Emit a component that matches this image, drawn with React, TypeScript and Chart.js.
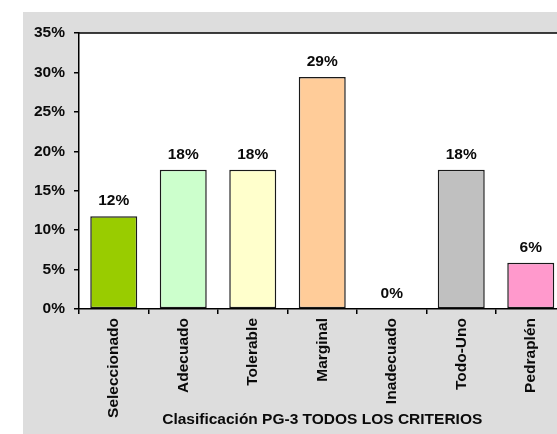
import React, { useEffect, useRef } from "react";
import { Chart, registerables } from "chart.js";

Chart.register(...registerables);

// Share of samples in each PG-3 soil class (percent)
const categories = [
  "Seleccionado",
  "Adecuado",
  "Tolerable",
  "Marginal",
  "Inadecuado",
  "Todo-Uno",
  "Pedraplén",
];
const percentages = [11.76, 17.65, 17.65, 29.41, 0, 17.65, 5.88];
const barColors = ["#99CC00", "#CCFFCC", "#FFFFCC", "#FFCC99", "#FFFFFF", "#C0C0C0", "#FF99CC"];
const yTicks = [0, 5, 10, 15, 20, 25, 30, 35];
const axisTitle = "Clasificación PG-3 TODOS LOS CRITERIOS";

const FONT = '"Liberation Sans", Arial, Helvetica, sans-serif';
const FONT_SIZE = 15.5;
const INK = "#0A0A0A";
const PANEL = "#DDDDDD";

// Gray panel with a white plot area and a framed border
const panelPlugin = {
  id: "panel",
  beforeDraw(chart: any) {
    const { ctx, chartArea, width, height } = chart;
    ctx.save();
    ctx.fillStyle = PANEL;
    ctx.fillRect(0, 0, width, height);
    ctx.fillStyle = "#FFFFFF";
    ctx.fillRect(chartArea.left, chartArea.top, chartArea.right - chartArea.left, chartArea.bottom - chartArea.top);
    ctx.restore();
  },
  afterDraw(chart: any) {
    const { ctx, chartArea } = chart;
    ctx.save();
    ctx.strokeStyle = "#000000";
    ctx.lineWidth = 1.5;
    ctx.beginPath();
    ctx.moveTo(chartArea.left, chartArea.top);
    ctx.lineTo(chartArea.right, chartArea.top);
    ctx.lineTo(chartArea.right, chartArea.bottom);
    ctx.stroke();
    ctx.restore();
  },
};

// Percentage printed above every bar
const valueLabelPlugin = {
  id: "valueLabels",
  afterDatasetsDraw(chart: any) {
    const { ctx } = chart;
    const meta = chart.getDatasetMeta(0);
    ctx.save();
    ctx.font = `bold ${FONT_SIZE}px ${FONT}`;
    ctx.fillStyle = INK;
    ctx.textAlign = "center";
    ctx.textBaseline = "alphabetic";
    meta.data.forEach((bar: any, i: number) => {
      ctx.fillText(`${Math.round(percentages[i])}%`, bar.x, bar.y - 11);
    });
    ctx.restore();
  },
};

export default function App() {
  const canvasRef = useRef<HTMLCanvasElement | null>(null);

  useEffect(() => {
    const canvas = canvasRef.current;
    if (!canvas) return;
    const chart = new Chart(canvas, {
      type: "bar",
      data: {
        labels: categories,
        datasets: [
          {
            data: percentages,
            backgroundColor: barColors,
            borderColor: "#1A1A1A",
            borderWidth: (c: any) => (c.raw === 0 ? 0 : 1.5),
            borderSkipped: false,
            categoryPercentage: 1,
            barPercentage: 0.676,
          },
        ],
      },
      options: {
        animation: false,
        responsive: false,
        devicePixelRatio: 1,
        layout: { padding: { top: 21, right: 17.5, bottom: 0, left: 0 } },
        plugins: {
          legend: { display: false },
          tooltip: { enabled: false },
        },
        scales: {
          x: {
            grid: {
              display: true,
              offset: true,
              drawOnChartArea: false,
              drawTicks: true,
              tickLength: 5,
              color: "#000000",
              lineWidth: 1.5,
            },
            border: { display: true, color: "#000000", width: 1.5 },
            ticks: {
              autoSkip: false,
              minRotation: 90,
              maxRotation: 90,
              padding: 4,
              color: INK,
              font: { family: FONT, size: FONT_SIZE, weight: "bold" },
            },
            title: {
              display: true,
              text: axisTitle,
              color: INK,
              font: { family: FONT, size: FONT_SIZE, weight: "bold" },
              padding: { top: 0, bottom: 5 },
            },
            afterFit(scale: any) {
              scale.height = 125;
            },
          },
          y: {
            min: 0,
            max: 35,
            afterBuildTicks(scale: any) {
              scale.ticks = yTicks.map((v) => ({ value: v }));
            },
            grid: {
              display: true,
              drawOnChartArea: false,
              drawTicks: true,
              tickLength: 5,
              color: "#000000",
              lineWidth: 1.5,
            },
            border: { display: true, color: "#000000", width: 1.5 },
            ticks: {
              padding: 9,
              color: INK,
              font: { family: FONT, size: FONT_SIZE, weight: "bold" },
              callback: (v: any) => `${v}%`,
            },
            afterFit(scale: any) {
              scale.width = 56;
            },
          },
        },
      },
      plugins: [panelPlugin, valueLabelPlugin],
    });
    return () => chart.destroy();
  }, []);

  return (
    <div
      style={{
        position: "fixed",
        left: 0,
        top: 0,
        width: 557,
        height: 434,
        overflow: "hidden",
        background: "#FFFFFF",
      }}
    >
      <canvas
        ref={canvasRef}
        width={560}
        height={422}
        style={{ position: "absolute", left: 23, top: 12, width: 560, height: 422 }}
      />
    </div>
  );
}
